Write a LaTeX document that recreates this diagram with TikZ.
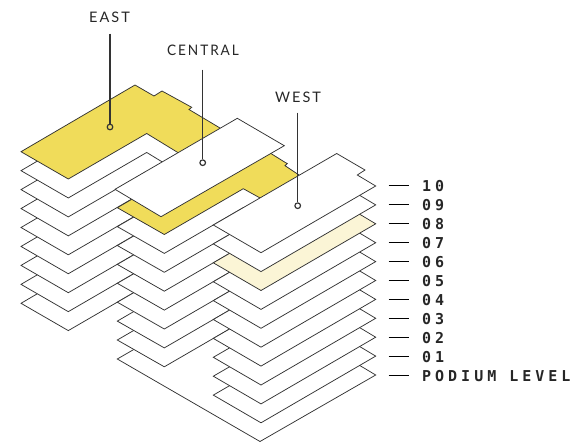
\documentclass[tikz,border=0pt]{standalone}
\usepackage{fontspec}
\newfontfamily\levelfont[LetterSpace=26.6]{DejaVu Sans Mono}
\newfontfamily\wingfont[LetterSpace=14]{Lato}
\definecolor{ink}{HTML}{333333}
\definecolor{gold}{HTML}{F0DC5A}
\definecolor{pale}{HTML}{FBF5D6}
\tikzset{
  floorplate/.style={draw=ink,line width=0.75pt,line join=miter,fill=white},
  pindot/.style={circle,draw=ink,line width=1.2pt,inner sep=0pt,minimum size=5.6pt},
  leader/.style={draw=ink,line width=1.2pt},
  tick/.style={draw=black,line width=1.1pt},
  wing/.style={font=\wingfont\fontsize{14.5}{16}\selectfont,text=black!85,inner sep=0pt},
  level/.style={font=\levelfont\bfseries\fontsize{15}{16}\selectfont,text=black!85,anchor=west,inner sep=0pt}
}
\newcommand{\eastplate}{(21,151.7) -- (135,85) -- (154,96) -- (162,91) -- (191.7,107.3) -- (189,109.5) -- (220,128) -- (240,140) -- (195,163) -- (146.7,133.5) -- (68.3,179) -- cycle}
\newcommand{\centralplate}{(117.3,207.7) -- (240.5,136.2) -- (271.7,154) -- (285,162.3) -- (287.3,163.5) -- (285,165.7) -- (299,175) -- (315,184.5) -- (280,209) -- (243.3,188.7) -- (164.3,234.5) -- cycle}
\newcommand{\westplate}{(213.3,225) -- (336.7,153.5) -- (365,170) -- (357.3,175) -- (375.7,186) -- (261,252.7) -- cycle}
\begin{document}
\begin{tikzpicture}[x=1pt,y=-1pt]
\useasboundingbox (0,0) rectangle (571,445);
% podium
\path[floorplate] (117.3,359) -- (213.3,303.6) -- (336.7,342.5) -- (365,359) -- (357.3,364) -- (375.7,375) -- (260,441.5) -- cycle;
% east
\foreach \k in {8,7,...,1}{\path[floorplate,shift={(0,18.95*\k)}] \eastplate;}
\path[floorplate,fill=gold] \eastplate;
% central
\foreach \k in {7,6,...,1}{\path[floorplate,shift={(0,18.9*\k)}] \centralplate;}
\path[floorplate,fill=gold] \centralplate;
\path[floorplate] (115,189.3) -- (237.3,118.3) -- (284.3,145.7) -- (161,216.7) -- cycle;
% west
\foreach \k in {9,8,...,0}{
  \ifnum\k=2\relax
    \path[floorplate,fill=pale,shift={(0,18.9*\k)}] \westplate;
  \else
    \path[floorplate,shift={(0,18.9*\k)}] \westplate;
  \fi
}
% wing labels and leaders
\node[wing] (eastlabel) at (109.5,17.5) {EAST};
\node[wing,xscale=0.94] (centrallabel) at (203,50.5) {CENTRAL};
\node[wing] (westlabel) at (298,97.5) {WEST};
\coordinate (easttop) at (110,33.5);
\coordinate (centraltop) at (202.7,69.5);
\coordinate (westtop) at (297.7,112.5);
\node[pindot] (eastdot) at (110,127) {};
\node[pindot] (centraldot) at (202.7,162.7) {};
\node[pindot] (westdot) at (297.7,205.7) {};
\draw[leader] (easttop) -- (eastdot);
\draw[leader] (centraltop) -- (centraldot);
\draw[leader] (westtop) -- (westdot);
% level key
\foreach \n/\t [count=\i from 0] in {a/10,b/09,c/08,d/07,e/06,f/05,g/04,h/03,i/02,j/01,k/PODIUM LEVEL}{
  \node[level] (lab\n) at (422,185.8+19.03*\i) {\t};
  \coordinate (ta\n) at (388.5,185.2+19.03*\i);
  \coordinate (tb\n) at (408.5,185.2+19.03*\i);
  \draw[tick] (ta\n) -- (tb\n);
}
\end{tikzpicture}
\end{document}
